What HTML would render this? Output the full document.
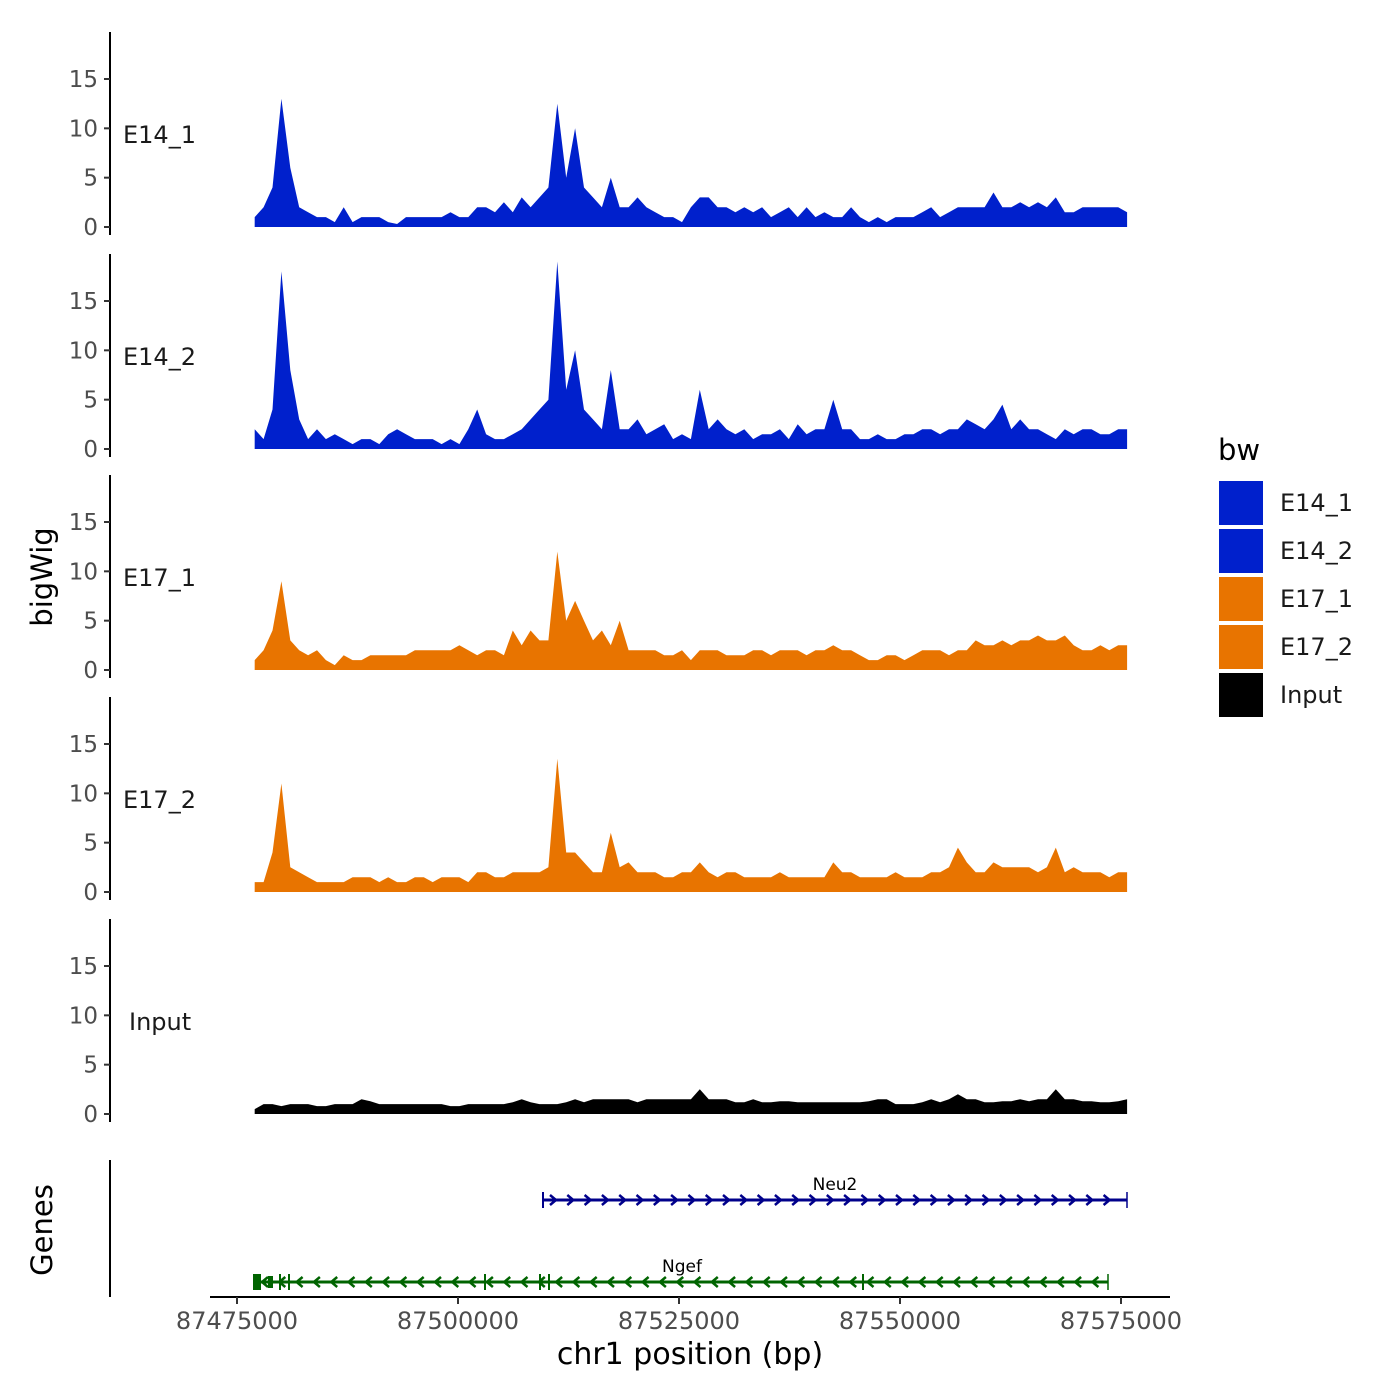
<!DOCTYPE html>
<html><head><meta charset="utf-8"><style>
html,body{margin:0;padding:0;background:#fff;}
svg{display:block;font-family:"DejaVu Sans","Liberation Sans",sans-serif;}
</style></head><body>
<svg id="chart" width="1400" height="1400" viewBox="0 0 1400 1400"></svg>
<script>
const samples = ["E14_1","E14_2","E17_1","E17_2","Input"];
const sampleColors = ["#0020CC","#0020CC","#E87400","#E87400","#000000"];
const binStart = 87477000;
const binStep = 1007;
const yTicks = [0,5,10,15];
const xTicks = [87475000,87500000,87525000,87550000,87575000];
const xTickLabels = ["87475000","87500000","87525000","87550000","87575000"];
const e14_1 = [1,2,4,13,6,2,1.5,1,1,0.5,2,0.5,1,1,1,0.5,0.3,1,1,1,1,1,1.5,1,1,2,2,1.5,2.5,1.5,3,2,3,4,12.5,5,10,4,3,2,5,2,2,3,2,1.5,1,1,0.5,2,3,3,2,2,1.5,2,1.5,2,1,1.5,2,1,2,1,1.5,1,1,2,1,0.5,1,0.5,1,1,1,1.5,2,1,1.5,2,2,2,2,3.5,2,2,2.5,2,2.5,2,3,1.5,1.5,2,2,2,2,2,1.5];
const e14_2 = [2,1,4,18,8,3,1,2,1,1.5,1,0.5,1,1,0.5,1.5,2,1.5,1,1,1,0.5,1,0.5,2,4,1.5,1,1,1.5,2,3,4,5,19,6,10,4,3,2,8,2,2,3,1.5,2,2.5,1,1.5,1,6,2,3,2,1.5,2,1,1.5,1.5,2,1,2.5,1.5,2,2,5,2,2,1,1,1.5,1,1,1.5,1.5,2,2,1.5,2,2,3,2.5,2,3,4.5,2,3,2,2,1.5,1,2,1.5,2,2,1.5,1.5,2,2];
const e17_1 = [1,2,4,9,3,2,1.5,2,1,0.5,1.5,1,1,1.5,1.5,1.5,1.5,1.5,2,2,2,2,2,2.5,2,1.5,2,2,1.5,4,2.5,4,3,3,12,5,7,5,3,4,2.5,5,2,2,2,2,1.5,1.5,2,1,2,2,2,1.5,1.5,1.5,2,2,1.5,2,2,2,1.5,2,2,2.5,2,2,1.5,1,1,1.5,1.5,1,1.5,2,2,2,1.5,2,2,3,2.5,2.5,3,2.5,3,3,3.5,3,3,3.5,2.5,2,2,2.5,2,2.5,2.5];
const e17_2 = [1,1,4,11,2.5,2,1.5,1,1,1,1,1.5,1.5,1.5,1,1.5,1,1,1.5,1.5,1,1.5,1.5,1.5,1,2,2,1.5,1.5,2,2,2,2,2.5,13.5,4,4,3,2,2,6,2.5,3,2,2,2,1.5,1.5,2,2,3,2,1.5,2,2,1.5,1.5,1.5,1.5,2,1.5,1.5,1.5,1.5,1.5,3,2,2,1.5,1.5,1.5,1.5,2,1.5,1.5,1.5,2,2,2.5,4.5,3,2,2,3,2.5,2.5,2.5,2.5,2,2.5,4.5,2,2.5,2,2,2,1.5,2,2];
const input = [0.5,1,1,0.8,1,1,1,0.8,0.8,1,1,1,1.5,1.3,1,1,1,1,1,1,1,1,0.8,0.8,1,1,1,1,1,1.2,1.5,1.2,1,1,1,1.2,1.5,1.2,1.5,1.5,1.5,1.5,1.5,1.2,1.5,1.5,1.5,1.5,1.5,1.5,2.5,1.5,1.5,1.5,1.2,1.2,1.5,1.2,1.2,1.3,1.3,1.2,1.2,1.2,1.2,1.2,1.2,1.2,1.2,1.3,1.5,1.5,1,1,1,1.2,1.5,1.2,1.5,2,1.5,1.5,1.2,1.2,1.3,1.3,1.5,1.3,1.5,1.5,2.5,1.5,1.5,1.3,1.3,1.2,1.2,1.3,1.5];
const seriesValues = [e14_1,e14_2,e17_1,e17_2,input];

const NS="http://www.w3.org/2000/svg";
const svg=document.getElementById('chart');
function mk(tag,attrs,parent){const e=document.createElementNS(NS,tag);for(const k in attrs)e.setAttribute(k,attrs[k]);(parent||svg).appendChild(e);return e;}
const xScale=bp=>237+(bp-87475000)*(1121-237)/100000;
const panelZero=[227,449,670,892,1114];
const yPer=148/15;

samples.forEach((s,pi)=>{
  const g=mk('g',{});
  
  
  const y0=panelZero[pi];
  const ax=mk('line',{x1:110,x2:110,y1:y0-195,y2:y0+8,stroke:'#000','stroke-width':2},g);
  
  
  yTicks.forEach(t=>{
    const y=y0-t*yPer;
    mk('line',{x1:104,x2:110,y1:y,y2:y,stroke:'#333','stroke-width':2},g);
    const tl=mk('text',{x:98,y:y+8,'text-anchor':'end','font-size':23,fill:'#4d4d4d'},g);
    tl.textContent=t;
    
    
  });
  const lab=mk('text',{x:s==='Input'?129:123,y:y0-84,'font-size':24,fill:'#1a1a1a'},g);
  lab.textContent=s;
  
  
  const vals=seriesValues[pi];
  let d='M'+xScale(binStart)+','+y0;
  vals.forEach((v,i)=>{d+=' L'+xScale(binStart+i*binStep).toFixed(1)+','+(y0-v*yPer).toFixed(1);});
  d+=' L'+xScale(binStart+(vals.length-1)*binStep).toFixed(1)+','+y0+' Z';
  const area=mk('path',{d:d,fill:sampleColors[pi]},g);
  
  
});

const gAx=mk('line',{x1:110,x2:110,y1:1160,y2:1297,stroke:'#000','stroke-width':2});


function gene(name,x1,x2,y,color,dir,lx){
  const g=mk('g',{});
  
  
  mk('line',{x1:x1,x2:x2,y1:y,y2:y,stroke:color,'stroke-width':3},g);
  for(let x=x1+10;x<x2-4;x+=17.3){
    const p=dir>0?`M${x-3},${y-5} L${x+3},${y} L${x-3},${y+5}`:`M${x+3},${y-5} L${x-3},${y} L${x+3},${y+5}`;
    mk('path',{d:p,fill:'none',stroke:color,'stroke-width':2.5},g);
  }
  mk('line',{x1:x1,x2:x1,y1:y-8,y2:y+8,stroke:color,'stroke-width':2},g);
  mk('line',{x1:x2,x2:x2,y1:y-8,y2:y+8,stroke:color,'stroke-width':1.5},g);
  const t=mk('text',{x:lx,y:y-10,'text-anchor':'middle','font-size':17,fill:'#000'},g);
  t.textContent=name;
  return g;
}
gene('Neu2',543,1127,1200,'#00008B',1,835);
const ng=gene('Ngef',255,1108,1282,'#006400',-1,682);
mk('rect',{x:253,y:1274,width:8,height:16,fill:'#006400'},ng);
mk('rect',{x:268,y:1276,width:5,height:12,fill:'#006400'},ng);
[280,289,485,540,549,863].forEach(x=>mk('line',{x1:x,x2:x,y1:1274,y2:1290,stroke:'#006400','stroke-width':2},ng));

const xa=mk('line',{x1:210,x2:1170,y1:1297,y2:1297,stroke:'#000','stroke-width':2});


xTicks.forEach((t,i)=>{
  const x=xScale(t);
  mk('line',{x1:x,x2:x,y1:1297,y2:1304,stroke:'#333','stroke-width':2});
  const tl=mk('text',{x:x,y:1329,'text-anchor':'middle','font-size':24,fill:'#4d4d4d'});
  tl.textContent=xTickLabels[i];
  
  
});
</script>
<div style="position:absolute;left:0;top:0;width:1400px;height:1400px;pointer-events:none">
<svg width="1400" height="1400" style="position:absolute;left:0;top:0">
<text x="690" y="1364" text-anchor="middle" font-size="30" fill="#000">chr1 position (bp)</text>
<text transform="translate(52,577) rotate(-90)" text-anchor="middle" font-size="29" fill="#000">bigWig</text>
<text transform="translate(52,1230) rotate(-90)" text-anchor="middle" font-size="29" fill="#000">Genes</text>
<g>
<text x="1218" y="460" font-size="29" fill="#000">bw</text>
<rect x="1219" y="481" width="44" height="44" fill="#0020CC"/>
<text x="1280" y="511" font-size="24" fill="#1a1a1a">E14_1</text>
<rect x="1219" y="529" width="44" height="44" fill="#0020CC"/>
<text x="1280" y="559" font-size="24" fill="#1a1a1a">E14_2</text>
<rect x="1219" y="577" width="44" height="44" fill="#E87400"/>
<text x="1280" y="607" font-size="24" fill="#1a1a1a">E17_1</text>
<rect x="1219" y="625" width="44" height="44" fill="#E87400"/>
<text x="1280" y="655" font-size="24" fill="#1a1a1a">E17_2</text>
<rect x="1219" y="673" width="44" height="44" fill="#000000"/>
<text x="1280" y="703" font-size="24" fill="#1a1a1a">Input</text>
</g>
</svg>
</div>
</body></html>
